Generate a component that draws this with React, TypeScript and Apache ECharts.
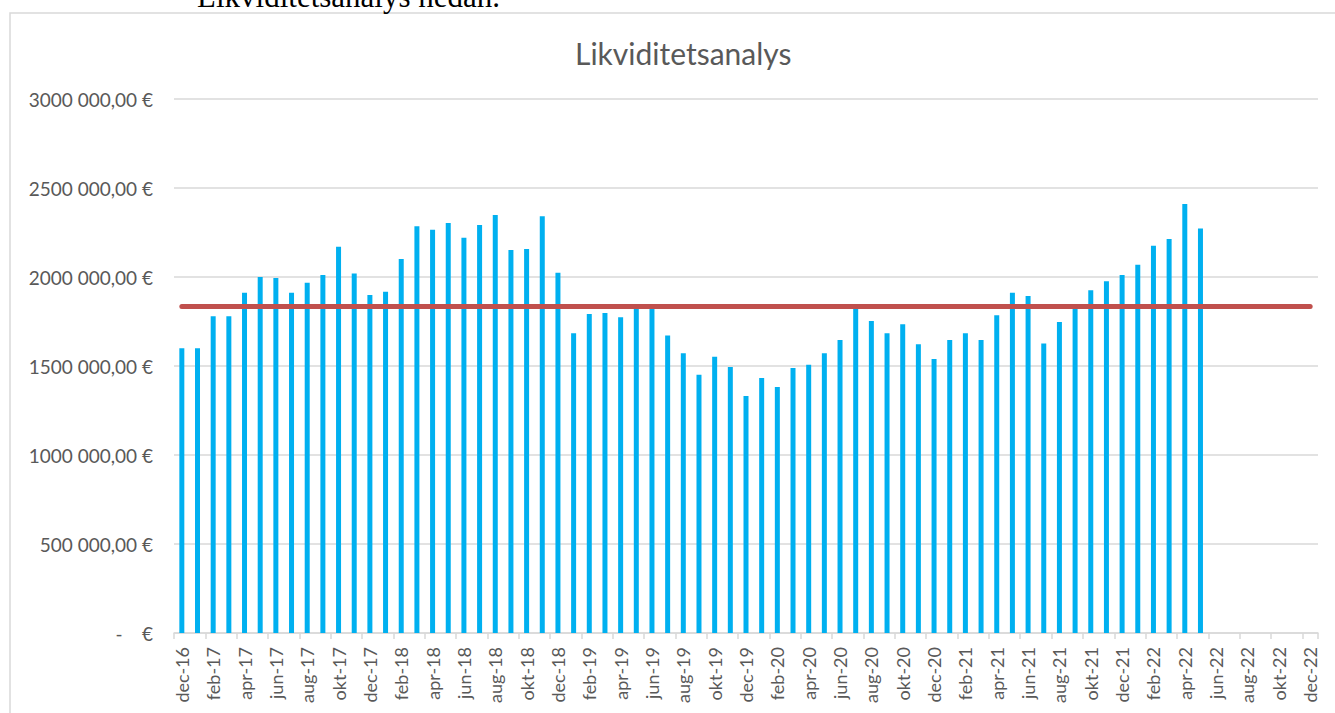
import React, { useEffect, useRef } from "react";
import * as echarts from "echarts";

const CATEGORIES: string[] = [
  "dec-16",
  "jan-17", "feb-17", "mar-17", "apr-17", "maj-17", "jun-17", "jul-17", "aug-17", "sep-17", "okt-17", "nov-17", "dec-17",
  "jan-18", "feb-18", "mar-18", "apr-18", "maj-18", "jun-18", "jul-18", "aug-18", "sep-18", "okt-18", "nov-18", "dec-18",
  "jan-19", "feb-19", "mar-19", "apr-19", "maj-19", "jun-19", "jul-19", "aug-19", "sep-19", "okt-19", "nov-19", "dec-19",
  "jan-20", "feb-20", "mar-20", "apr-20", "maj-20", "jun-20", "jul-20", "aug-20", "sep-20", "okt-20", "nov-20", "dec-20",
  "jan-21", "feb-21", "mar-21", "apr-21", "maj-21", "jun-21", "jul-21", "aug-21", "sep-21", "okt-21", "nov-21", "dec-21",
  "jan-22", "feb-22", "mar-22", "apr-22", "maj-22", "jun-22", "jul-22", "aug-22", "sep-22", "okt-22", "nov-22", "dec-22",
];

const BAR_VALUES: number[] = [
  1600000, 1600000, 1780000, 1780000, 1912000, 2000000, 1994000, 1912000, 1968000, 2011000,
  2170000, 2019000, 1899000, 1917000, 2101000, 2285000, 2266000, 2303000, 2221000, 2292000,
  2348000, 2152000, 2157000, 2341000, 2024000, 1684000, 1792000, 1798000, 1774000, 1826000,
  1830000, 1672000, 1571000, 1451000, 1552000, 1494000, 1331000, 1433000, 1382000, 1489000,
  1507000, 1571000, 1646000, 1830000, 1753000, 1684000, 1734000, 1622000, 1539000, 1646000,
  1684000, 1646000, 1785000, 1912000, 1893000, 1627000, 1747000, 1830000, 1925000, 1976000,
  2011000, 2069000, 2176000, 2213000, 2410000, 2272000,
];

const AVG_LINE = 1833000;

const Y_TICKS: number[] = [0, 500000, 1000000, 1500000, 2000000, 2500000, 3000000];
const Y_LABELS: string[] = [
  "-\u00a0\u00a0\u00a0\u00a0€",
  "500 000,00 €",
  "1000 000,00 €",
  "1500 000,00 €",
  "2000 000,00 €",
  "2500 000,00 €",
  "3000 000,00 €",
];

const TITLE = "Likviditetsanalys";
const PAGE_TEXT = "Likviditetsanalys nedan.";

const FONT = "Lato, 'Open Sans', sans-serif";

export default function App() {
  const ref = useRef<HTMLDivElement>(null);

  useEffect(() => {
    if (!ref.current) return;
    const chart = echarts.init(ref.current, undefined, { renderer: "svg" });
    chart.setOption({
      animation: false,
      backgroundColor: "#ffffff",
      title: {
        text: TITLE,
        left: 570,
        top: 33,
        textStyle: { fontFamily: FONT, fontSize: 30, fontWeight: "normal", color: "#595959" },
      },
      graphic: [
        {
          type: "rect",
          z: -1,
          shape: { x: 10, y: 13, width: 1400, height: 800 },
          style: { fill: "none", stroke: "#D9D9D9", lineWidth: 1.5 },
          silent: true,
        },
        {
          type: "text",
          x: 197,
          y: 12,
          style: {
            text: PAGE_TEXT,
            font: "31px 'Liberation Serif', 'Times New Roman', serif",
            fill: "#000000",
            textVerticalAlign: "bottom",
          },
          silent: true,
        },
      ],
      grid: { left: 174, right: 17, top: 99, bottom: 80, containLabel: false },
      xAxis: {
        type: "category",
        data: CATEGORIES,
        boundaryGap: true,
        axisLine: { show: true, lineStyle: { color: "#D9D9D9", width: 1.5 } },
        axisTick: { show: true, interval: 1, length: 6, alignWithLabel: false, lineStyle: { color: "#D9D9D9", width: 1.5 } },
        axisLabel: {
          interval: 1,
          rotate: 90,
          margin: 14,
          fontFamily: FONT,
          fontSize: 18,
          color: "#595959",
        },
        splitLine: { show: false },
      },
      yAxis: {
        type: "value",
        min: 0,
        max: 3000000,
        interval: 500000,
        axisLine: { show: false },
        axisTick: { show: false },
        axisLabel: {
          margin: 21,
          fontFamily: FONT,
          fontSize: 19,
          color: "#595959",
          formatter: (v: number) => {
            const i = Y_TICKS.indexOf(v);
            return i >= 0 ? Y_LABELS[i] : "";
          },
        },
        splitLine: { show: true, lineStyle: { color: "#D9D9D9", width: 1.5 } },
      },
      series: [
        {
          type: "bar",
          data: BAR_VALUES,
          barWidth: 5,
          itemStyle: { color: "#00B0F0" },
          emphasis: { disabled: true },
          markLine: {
            silent: true,
            symbol: "none",
            label: { show: false },
            lineStyle: { color: "#C0504D", width: 5, type: "solid", cap: "round" },
            emphasis: { disabled: true },
            data: [
              [
                { coord: [CATEGORIES[0], AVG_LINE] },
                { coord: [CATEGORIES[CATEGORIES.length - 1], AVG_LINE] },
              ],
            ],
          },
        },
      ],
    });
    return () => chart.dispose();
  }, []);

  return (
    <div
      ref={ref}
      style={{ position: "fixed", left: 0, top: 0, width: 1335, height: 713, background: "#fff" }}
    />
  );
}
